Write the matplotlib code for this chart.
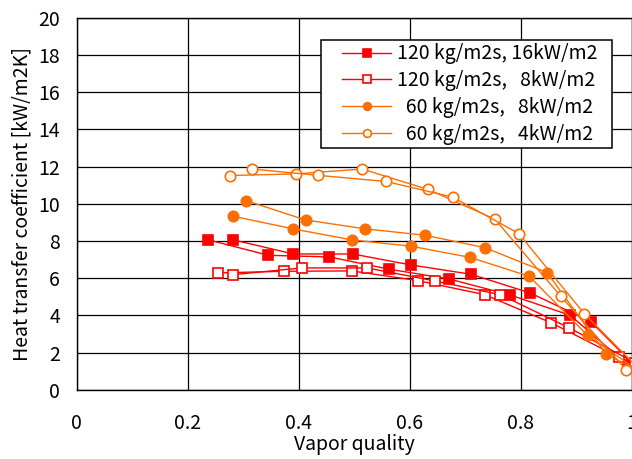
import matplotlib
matplotlib.use("Agg")
import matplotlib.pyplot as plt
from matplotlib.patches import Rectangle

plt.rcParams['font.family'] = ['Noto Sans CJK JP', 'DejaVu Sans']

# 120 kg/m2s, 16 kW/m2 (two runs)
g120_q16_runA_x = [0.237, 0.345, 0.455, 0.563, 0.670, 0.781, 0.889, 0.993]
g120_q16_runA_y = [8.06, 7.23, 7.14, 6.48, 5.96, 5.09, 4.00, 1.31]
g120_q16_runB_x = [0.282, 0.390, 0.497, 0.602, 0.710, 0.817, 0.926, 1.034]
g120_q16_runB_y = [8.06, 7.30, 7.30, 6.71, 6.21, 5.20, 3.66, 0.40]

# 120 kg/m2s, 8 kW/m2
g120_q8_runA_x = [0.254, 0.373, 0.495, 0.614, 0.735, 0.855, 0.977]
g120_q8_runA_y = [6.28, 6.37, 6.39, 5.87, 5.11, 3.59, 1.74]
g120_q8_runB_x = [0.282, 0.405, 0.523, 0.645, 0.763, 0.886, 1.006]
g120_q8_runB_y = [6.19, 6.55, 6.55, 5.85, 5.11, 3.34, 1.45]

# 60 kg/m2s, 8 kW/m2
g60_q8_runA_x = [0.282, 0.390, 0.495, 0.602, 0.708, 0.815, 0.920, 1.027]
g60_q8_runA_y = [9.33, 8.65, 8.06, 7.72, 7.12, 6.10, 2.92, 0.70]
g60_q8_runB_x = [0.305, 0.412, 0.520, 0.627, 0.735, 0.847, 0.954, 1.060]
g60_q8_runB_y = [10.17, 9.13, 8.65, 8.31, 7.64, 6.30, 1.90, 0.30]

# 60 kg/m2s, 4 kW/m2
g60_q4_runA_x = [0.276, 0.395, 0.514, 0.633, 0.753, 0.872, 0.990]
g60_q4_runA_y = [11.52, 11.61, 11.87, 10.77, 9.17, 5.02, 1.05]
g60_q4_runB_x = [0.315, 0.435, 0.557, 0.677, 0.796, 0.914, 1.033]
g60_q4_runB_y = [11.87, 11.53, 11.20, 10.36, 8.40, 4.09, 0.50]

labels = ["120 kg/m2s, 16kW/m2",
          "120 kg/m2s,   8kW/m2",
          "  60 kg/m2s,   8kW/m2",
          "  60 kg/m2s,   4kW/m2"]

xticks = [0, 0.2, 0.4, 0.6, 0.8, 1.0]
xticklabels = ["0", "0.2", "0.4", "0.6", "0.8", "1"]
yticks = list(range(0, 21, 2))

RED = '#FF0000'
ORANGE = '#FF6E00'

fig = plt.figure(figsize=(6.32, 4.59), dpi=100)
ax = fig.add_axes([0.1215, 0.151, 0.8785, 0.81])

ms_sq = 7
ms_ci = 7.5
series = [
    (g120_q16_runA_x, g120_q16_runA_y, g120_q16_runB_x, g120_q16_runB_y, RED, 's', RED, ms_sq),
    (g120_q8_runA_x, g120_q8_runA_y, g120_q8_runB_x, g120_q8_runB_y, RED, 's', 'white', ms_sq),
    (g60_q8_runA_x, g60_q8_runA_y, g60_q8_runB_x, g60_q8_runB_y, ORANGE, 'o', ORANGE, ms_ci),
    (g60_q4_runA_x, g60_q4_runA_y, g60_q4_runB_x, g60_q4_runB_y, ORANGE, 'o', 'white', ms_ci),
]
handles = []
for (ax_, ay_, bx_, by_, col, mk, fc, ms), lab in zip(series, labels):
    for xs, ys in ((ax_, ay_), (bx_, by_)):
        ax.plot(xs, ys, color=col, lw=1.0, marker=mk, markersize=ms,
                markerfacecolor=fc, markeredgecolor=col, markeredgewidth=1.2,
                zorder=3)
    h, = ax.plot([], [], color=col, lw=1.0, marker=mk, markersize=ms * 0.75,
                 markerfacecolor=fc, markeredgecolor=col, markeredgewidth=1.2)
    handles.append(h)

ax.set_xlim(0, 1)
ax.set_ylim(0, 20)
ax.set_xticks(xticks)
ax.set_xticklabels(xticklabels)
ax.set_yticks(yticks)
ax.grid(True, color='black', lw=0.9)
ax.set_axisbelow(True)
ax.tick_params(axis='both', length=0, labelsize=14)
ax.tick_params(axis='x', pad=17)
ax.tick_params(axis='y', pad=12)
for s in ax.spines.values():
    s.set_color('black')
    s.set_linewidth(1.0)

ax.set_xlabel("Vapor quality", fontsize=14, labelpad=0)
ax.set_ylabel("Heat transfer coefficient [kW/m2K]", fontsize=14, labelpad=4)

# legend frame (layout box)
frame = Rectangle((0.4398, 0.650), 0.964 - 0.4398, 0.9406 - 0.650,
                  transform=ax.transAxes, facecolor='white', edgecolor='black',
                  lw=1.1, zorder=4)
ax.add_patch(frame)

leg = ax.legend(handles, labels, loc='center', bbox_to_anchor=(0.708, 0.795),
                fontsize=14, frameon=False, handlelength=2.5, handletextpad=0.3,
                labelspacing=0.3, borderpad=0, borderaxespad=0)
leg.set_zorder(5)

fig.savefig("out.png", dpi=100)
